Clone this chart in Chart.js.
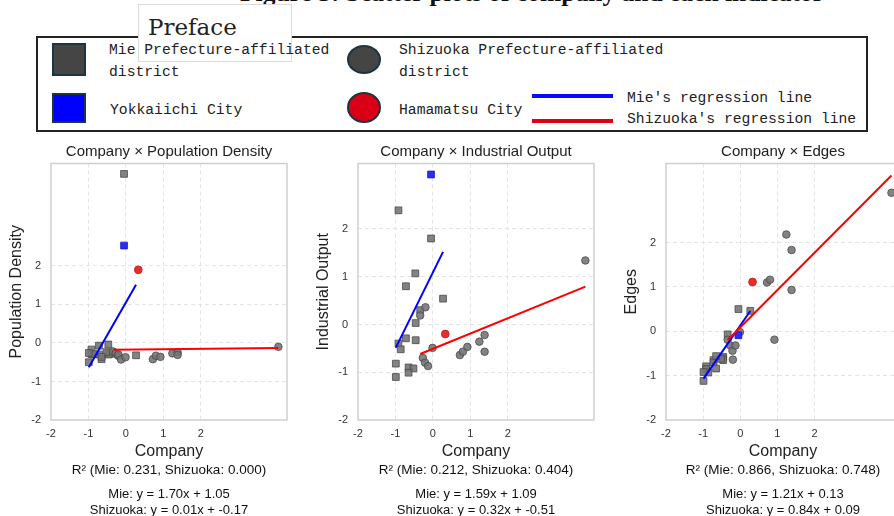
<!DOCTYPE html>
<html>
<head>
<meta charset="utf-8">
<script src="https://cdn.jsdelivr.net/npm/chart.js@4.4.1/dist/chart.umd.min.js"></script>
<style>
  html, body { margin: 0; padding: 0; background: #fff; }
  body { width: 894px; height: 516px; overflow: hidden; position: relative;
         font-family: "Liberation Sans", Arial, sans-serif; }
  .abs { position: absolute; }
  #caption { left: 240px; top: -19.6px; font: bold 25.5px/1 "Liberation Serif", serif;
             white-space: nowrap; color: #111; }
  #legend-box { left: 36px; top: 36px; width: 832px; height: 96px; border: 2px solid #222;
                box-sizing: border-box; z-index: 1; }
  #preface { left: 138px; top: 4px; width: 154px; height: 58px; background: #fff;
             border: 1px solid #dcdcdc; box-sizing: border-box; z-index: 2; }
  #preface-text { left: 148px; top: 15.5px; font: 23px/1 "DejaVu Serif", serif; color: #222; z-index: 3; }
  .leg-text { font: 14.7px/22px "Liberation Mono", monospace; color: #222; white-space: pre; z-index: 3; }
  .mark { box-sizing: border-box; border: 2px solid #1e3440; z-index: 3; }
  .leg-line { height: 4px; width: 81px; z-index: 3; }
  canvas { position: absolute; top: 135px; }
  .stats { position: absolute; width: 300px; text-align: center; color: #111; white-space: nowrap; }
</style>
</head>
<body>
<div id="caption" class="abs">Figure 5: Scatter plots of company and each indicator</div>

<div id="legend-box" class="abs"></div>
<div id="preface" class="abs"></div>
<div id="preface-text" class="abs">Preface</div>

<div class="abs mark" style="left:52px;top:43px;width:34px;height:33px;background:#454545;"></div>
<div class="abs leg-text" style="left:109px;top:39px;">Mie Prefecture-affiliated
district</div>
<div class="abs mark" style="left:347px;top:45px;width:34px;height:29px;border-radius:50%;background:#454545;"></div>
<div class="abs leg-text" style="left:399px;top:39px;">Shizuoka Prefecture-affiliated
district</div>

<div class="abs mark" style="left:52px;top:93px;width:34px;height:30px;background:#0000ff;"></div>
<div class="abs leg-text" style="left:110px;top:99px;">Yokkaiichi City</div>
<div class="abs mark" style="left:347px;top:92px;width:34px;height:31px;border-radius:50%;background:#d90016;"></div>
<div class="abs leg-text" style="left:399px;top:99px;">Hamamatsu City</div>

<div class="abs leg-line" style="left:532px;top:94px;background:#0a0aff;"></div>
<div class="abs leg-line" style="left:532px;top:119px;background:#dc0018;"></div>
<div class="abs leg-text" style="left:627px;top:87px;">Mie's regression line</div>
<div class="abs leg-text" style="left:627px;top:108px;">Shizuoka's regression line</div>

<canvas id="c0" width="300" height="330" style="left:0px;"></canvas>
<canvas id="c1" width="300" height="330" style="left:307px;"></canvas>
<canvas id="c2" width="298" height="330" style="left:615px;"></canvas>

<script>
// axis setup
const xTicks = [-2, -1, 0, 1, 2];
const yTicks = [-2, -1, 0, 1, 2];
const xMin = -2, xMax = 4.3, yMin = -2;
const yMaxes = [4.66, 3.37, 3.78];

const panelTitles = ['Company × Population Density', 'Company × Industrial Output', 'Company × Edges'];
const yLabels = ['Population Density', 'Industrial Output', 'Edges'];

// Mie Prefecture-affiliated districts (squares)
const mieCompany    = [-0.92, -0.05, -0.47, -0.72, 0.27, -0.34, -0.46, -0.72, -0.46, -0.92, -0.86, -0.99, -0.65, -0.52, -0.65, -0.99];
const miePopDensity = [-0.17, 4.39, -0.04, -0.07, -0.32, -0.28, -0.26, -0.30, -0.30, -0.29, -0.29, -0.50, -0.42, -0.24, -0.36, -0.26];
const mieIndustrial = [2.39, 1.80, 1.07, 0.80, 0.54, 0.30, 0.03, -0.29, -0.33, -0.40, -0.52, -0.82, -0.90, -0.92, -1.01, -1.10];
const mieEdges      = [-0.79, 0.50, -0.60, -0.65, 0.46, -0.07, -0.58, -0.70, -0.65, -0.85, -0.93, -0.92, -0.84, -0.62, -0.56, -1.12];

// Yokkaiichi City (blue square)
const yokkaichiCompany = -0.05;
const yokkaichiValues = [2.53, 3.14, -0.09];

// Shizuoka Prefecture-affiliated districts (circles)
const shizCompany    = [-0.34, -0.27, -0.21, -0.20, -0.13, -0.01, 0.72, 0.80, 0.92, 1.24, 1.38, 1.38, 4.07];
const shizPopDensity = [-0.22, -0.26, -0.33, -0.30, -0.43, -0.37, -0.42, -0.33, -0.36, -0.27, -0.24, -0.31, -0.10];
const shizIndustrial = [0.19, -0.70, -0.80, 0.36, -0.87, -0.49, -0.64, -0.57, -0.47, -0.36, -0.22, -0.57, 1.34];
const shizEdges      = [-0.19, -0.32, -0.44, -0.64, -0.32, -0.02, 1.10, 1.16, -0.19, 2.18, 1.83, 0.93, 3.12];

// Hamamatsu City (red circle)
const hamamatsuCompany = 0.33;
const hamamatsuValues = [1.90, -0.20, 1.11];

// regression results
const mieSlopes      = [1.70, 1.59, 1.21];
const mieIntercepts  = [1.05, 1.09, 0.13];
const shizSlopes     = [0.01, 0.32, 0.84];
const shizIntercepts = [-0.17, -0.51, 0.09];
const mieR2  = [0.231, 0.212, 0.866];
const shizR2 = [0.000, 0.404, 0.748];

const mieY  = [miePopDensity, mieIndustrial, mieEdges];
const shizY = [shizPopDensity, shizIndustrial, shizEdges];
const canvasLefts = [0, 307, 615];

Chart.defaults.font.family = '"Liberation Sans", Arial, sans-serif';

// light grey box round the plot area
const frame = {
    id: 'frame',
    beforeDatasetsDraw(chart) {
        const { ctx, chartArea: a } = chart;
        ctx.save();
        ctx.strokeStyle = '#cfcfcf';
        ctx.lineWidth = 1.5;
        ctx.strokeRect(a.left, a.top, a.right - a.left, a.bottom - a.top);
        ctx.restore();
    }
};

function fitLine(xs, slope, intercept) {
    const lo = Math.min(...xs), hi = Math.max(...xs);
    return [{ x: lo, y: slope * lo + intercept }, { x: hi, y: slope * hi + intercept }];
}

function gridColor(ctx) {
    return ctx.tick && ctx.tick.value === -2 ? 'rgba(0,0,0,0)' : '#e4e4e4';
}

function makePanel(i) {
    const mieXs = mieCompany.concat([yokkaichiCompany]);
    const config = {
        type: 'scatter',
        data: {
            datasets: [
                {
                    label: "Shizuoka's regression line",
                    data: fitLine(shizCompany, shizSlopes[i], shizIntercepts[i]),
                    showLine: true, pointRadius: 0, borderColor: '#ff0000', borderWidth: 2, order: 0
                },
                {
                    label: "Mie's regression line",
                    data: fitLine(mieXs, mieSlopes[i], mieIntercepts[i]),
                    showLine: true, pointRadius: 0, borderColor: '#0000ff', borderWidth: 2, order: 1
                },
                {
                    label: 'Hamamatsu City',
                    data: [{ x: hamamatsuCompany, y: hamamatsuValues[i] }],
                    pointStyle: 'circle', pointRadius: 3.9,
                    backgroundColor: '#ee2b2b', borderColor: '#b52020', borderWidth: 0.8, order: 2
                },
                {
                    label: 'Yokkaiichi City',
                    data: [{ x: yokkaichiCompany, y: yokkaichiValues[i] }],
                    pointStyle: 'rect', pointRadius: 4.8,
                    backgroundColor: '#2b2bff', borderColor: '#1a1ac0', borderWidth: 0.8, order: 3
                },
                {
                    label: 'Shizuoka Prefecture-affiliated district',
                    data: shizCompany.map((x, k) => ({ x: x, y: shizY[i][k] })),
                    pointStyle: 'circle', pointRadius: 3.8,
                    backgroundColor: 'rgba(118,118,118,0.9)', borderColor: '#4a4a4a', borderWidth: 0.8, order: 4
                },
                {
                    label: 'Mie Prefecture-affiliated district',
                    data: mieCompany.map((x, k) => ({ x: x, y: mieY[i][k] })),
                    pointStyle: 'rect', pointRadius: 4.8,
                    backgroundColor: 'rgba(118,118,118,0.9)', borderColor: '#4a4a4a', borderWidth: 0.8, order: 5
                }
            ]
        },
        options: {
            responsive: false,
            animation: false,
            devicePixelRatio: 1,
            layout: { padding: { left: 0, right: 13, top: 0, bottom: 0 } },
            plugins: {
                legend: { display: false },
                tooltip: { enabled: false },
                title: {
                    display: true, text: panelTitles[i], color: '#222', fullSize: false,
                    font: { size: 15, weight: 'normal' }, padding: { top: 7.5, bottom: 3 }
                }
            },
            scales: {
                x: {
                    type: 'linear', min: xMin, max: xMax,
                    afterBuildTicks: s => { s.ticks = xTicks.map(v => ({ value: v })); },
                    afterFit: s => { s.height = 45; },
                    grid: { color: gridColor, lineWidth: 1, drawTicks: false },
                    border: { display: false, dash: [4, 3] },
                    ticks: { padding: 7.5, color: '#333', font: { size: 11 } },
                    title: { display: true, text: 'Company', color: '#222', font: { size: 16 },
                             padding: { top: 0, bottom: 3.4 } }
                },
                y: {
                    type: 'linear', min: yMin, max: yMaxes[i],
                    afterBuildTicks: s => { s.ticks = yTicks.map(v => ({ value: v })); },
                    afterFit: s => { s.width = 51; },
                    grid: { color: gridColor, lineWidth: 1, drawTicks: false },
                    border: { display: false, dash: [4, 3] },
                    ticks: { padding: 10, color: '#333', font: { size: 11 } },
                    title: { display: true, text: yLabels[i], color: '#222', font: { size: 16 },
                             padding: { top: 7.4, bottom: 0 } }
                }
            }
        },
        plugins: [frame]
    };
    const chart = new Chart(document.getElementById('c' + i), config);

    // R² and equations under each panel
    const a = chart.chartArea;
    const center = canvasLefts[i] + (a.left + a.right) / 2;
    const lines = [
        { text: `R² (Mie: ${mieR2[i].toFixed(3)}, Shizuoka: ${shizR2[i].toFixed(3)})`, top: 462, size: 13.5 },
        { text: `Mie: y = ${mieSlopes[i].toFixed(2)}x + ${mieIntercepts[i].toFixed(2)}`, top: 485.5, size: 13 },
        { text: `Shizuoka: y = ${shizSlopes[i].toFixed(2)}x + ${shizIntercepts[i].toFixed(2)}`, top: 501.5, size: 13 }
    ];
    lines.forEach(l => {
        const div = document.createElement('div');
        div.className = 'stats';
        div.style.left = (center - 150) + 'px';
        div.style.top = l.top + 'px';
        div.style.font = l.size + 'px/15px "Liberation Sans", Arial, sans-serif';
        div.textContent = l.text;
        document.body.appendChild(div);
    });
}

[0, 1, 2].forEach(makePanel);
</script>
</body>
</html>
